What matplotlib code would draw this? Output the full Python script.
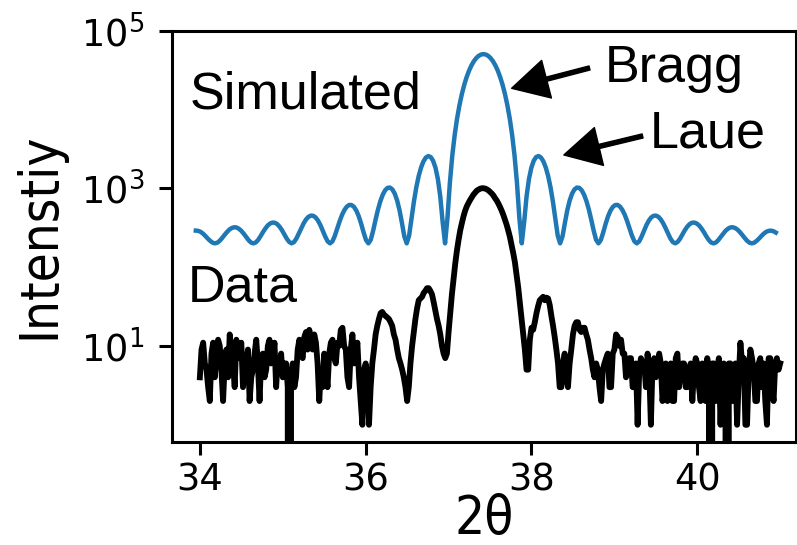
import numpy as np
import matplotlib
matplotlib.use('Agg')
import matplotlib.pyplot as plt

# Simulated Laue profile, evenly spaced in 2theta
sim_start, sim_stop = 33.951, 40.947
sim_counts = [
    290, 288, 280, 266, 248, 230, 215, 204, 200, 204,
    216, 234, 256, 278, 299, 313, 320, 318, 306, 288,
    265, 241, 220, 205, 200, 205, 221, 246, 277, 308,
    337, 357, 367, 365, 350, 324, 292, 258, 228, 208,
    200, 208, 231, 268, 312, 359, 402, 434, 450, 447,
    426, 388, 340, 289, 244, 212, 200, 212, 249, 308,
    380, 458, 529, 584, 614, 612, 580, 519, 440, 354,
    276, 221, 200, 222, 290, 398, 535, 685, 828, 942,
    1011, 1020, 967, 855, 700, 527, 364, 245, 200, 251,
    411, 676, 1027, 1430, 1838, 2196, 2452, 2558, 2487, 2233,
    1821, 1309, 786, 371, 200, 419, 1169, 2569, 4703, 7609,
    11270, 15601, 20464, 25659, 30951, 36062, 40728, 44684, 47685, 49560,
    50200, 49560, 47685, 44684, 40728, 36062, 30951, 25659, 20464, 15601,
    11270, 7609, 4703, 2569, 1169, 419, 200, 371, 786, 1309,
    1821, 2233, 2487, 2558, 2452, 2196, 1838, 1430, 1027, 676,
    411, 251, 200, 245, 364, 527, 700, 855, 967, 1020,
    1011, 942, 828, 685, 535, 398, 290, 222, 200, 221,
    276, 354, 440, 519, 580, 612, 614, 584, 529, 458,
    380, 308, 249, 212, 200, 212, 244, 289, 340, 388,
    426, 447, 450, 434, 402, 359, 312, 268, 231, 208,
    200, 208, 228, 258, 292, 324, 350, 365, 367, 357,
    337, 308, 277, 246, 221, 205, 200, 205, 220, 241,
    265, 288, 306, 318, 320, 313, 299, 278, 256, 234,
    216, 204, 200, 204, 215, 230, 248, 266, 280, 288,
    290, 285, 274,
]

# Measured scan, 0.02 deg steps from 34 to 41
data_start, data_stop = 34.0, 41.0
data_counts = [
    4, 9, 11, 6, 5, 3, 2, 8, 11, 4, 7, 12, 10, 5, 2, 6, 9, 4, 14, 8,
    6, 3, 12, 7, 9, 11, 3, 5, 6, 9, 2, 4, 5, 8, 12, 6, 2, 7, 8, 4,
    5, 10, 12, 6, 7, 11, 3, 7, 5, 8, 4, 6, 6, 3, 0, 4, 6, 3, 4, 9,
    12, 8, 7, 13, 15, 9, 16, 12, 9, 14, 11, 6, 2, 5, 3, 8, 5, 3, 8, 11,
    12, 7, 6, 11, 10, 16, 17, 10, 9, 4, 3, 9, 14, 6, 8, 11, 4, 2, 1, 5,
    6, 4, 1, 3, 6, 9, 14, 18, 22, 26, 27, 25, 24, 23, 22, 20, 18, 14, 12, 9,
    7, 6, 5, 4, 3, 2, 3, 6, 10, 15, 22, 30, 38, 40, 42, 47, 50, 54, 54, 50,
    45, 36, 28, 22, 18, 14, 10, 8, 7, 8, 15, 26, 45, 70, 110, 160, 220, 290, 360, 440,
    520, 590, 650, 710, 770, 830, 880, 930, 960, 985, 1000, 1000, 990, 970, 940, 900, 860, 810, 750, 700,
    640, 580, 520, 460, 400, 345, 290, 240, 190, 150, 115, 80, 55, 35, 22, 14, 9, 5, 5, 12,
    17, 16, 20, 26, 32, 38, 40, 42, 38, 41, 40, 33, 24, 18, 13, 9, 6, 3, 3, 6,
    8, 4, 3, 6, 9, 14, 18, 20, 20, 16, 15, 17, 17, 14, 12, 9, 7, 5, 4, 6,
    5, 3, 2, 5, 6, 7, 8, 3, 3, 8, 9, 14, 13, 10, 12, 8, 8, 4, 5, 7,
    7, 3, 3, 6, 1, 5, 7, 6, 6, 3, 8, 5, 1, 6, 7, 4, 5, 8, 6, 2,
    3, 6, 2, 4, 6, 2, 2, 7, 8, 3, 5, 6, 6, 3, 3, 5, 6, 2, 5, 7,
    6, 3, 2, 6, 4, 2, 7, 5, 0, 6, 6, 2, 5, 7, 1, 5, 6, 2, 0, 6,
    6, 2, 3, 6, 1, 4, 11, 6, 7, 1, 1, 5, 9, 7, 5, 2, 2, 6, 7, 3,
    6, 2, 1, 7, 7, 3, 2, 6, 7, 5, 6,
]

x_ticks = [34, 36, 38, 40]
y_ticks = [1e1, 1e3, 1e5]

sim_2theta = np.linspace(sim_start, sim_stop, len(sim_counts))
data_2theta = np.linspace(data_start, data_stop, len(data_counts))

fig = plt.figure(figsize=(7.97, 5.45), dpi=100)
ax = fig.add_axes([0.2154, 0.1895, 0.7833, 0.7545])

ax.plot(sim_2theta, sim_counts, color='#1f77b4', linewidth=3.2)
ax.plot(data_2theta, data_counts, color='black', linewidth=4.2)

ax.set_yscale('log')
ax.set_xlim(33.66, 41.19)
ax.set_ylim(0.61, 1e5)
ax.set_xticks(x_ticks)
ax.set_yticks(y_ticks)
ax.yaxis.set_minor_locator(matplotlib.ticker.NullLocator())

for spine in ax.spines.values():
    spine.set_linewidth(2.2)
ax.tick_params(length=9.6, width=2.2, labelsize=26.5)
ax.tick_params(axis='x', pad=4.7)
ax.tick_params(axis='y', pad=10)

axis_font = dict(fontsize=38, family='DejaVu Sans', fontstretch='condensed')
ax.set_xlabel('2θ', **axis_font)
ax.set_ylabel('Intenstiy', **axis_font)
ax.xaxis.set_label_coords(0.5, -0.124)
ax.yaxis.set_label_coords(-0.171, 0.5)

# Labels for the two curves and the peak arrows
label_font = dict(fontsize=37.5, family='Liberation Sans')
ax.text(33.88, 1.04e4, 'Simulated', **label_font)
ax.text(33.855, 36.4, 'Data', **label_font)
ax.text(38.885, 2.24e4, 'Bragg', **label_font)
ax.text(39.43, 3245, 'Laue', **label_font)

arrow = dict(facecolor='black', edgecolor='black', width=3, headwidth=28, headlength=26, shrink=0)
ax.annotate('', xy=(37.76, 1.85e4), xytext=(38.70, 3.35e4), arrowprops=arrow)
ax.annotate('', xy=(38.39, 2642), xytext=(39.34, 4600), arrowprops=arrow)

fig.savefig('out.png', dpi=100)
